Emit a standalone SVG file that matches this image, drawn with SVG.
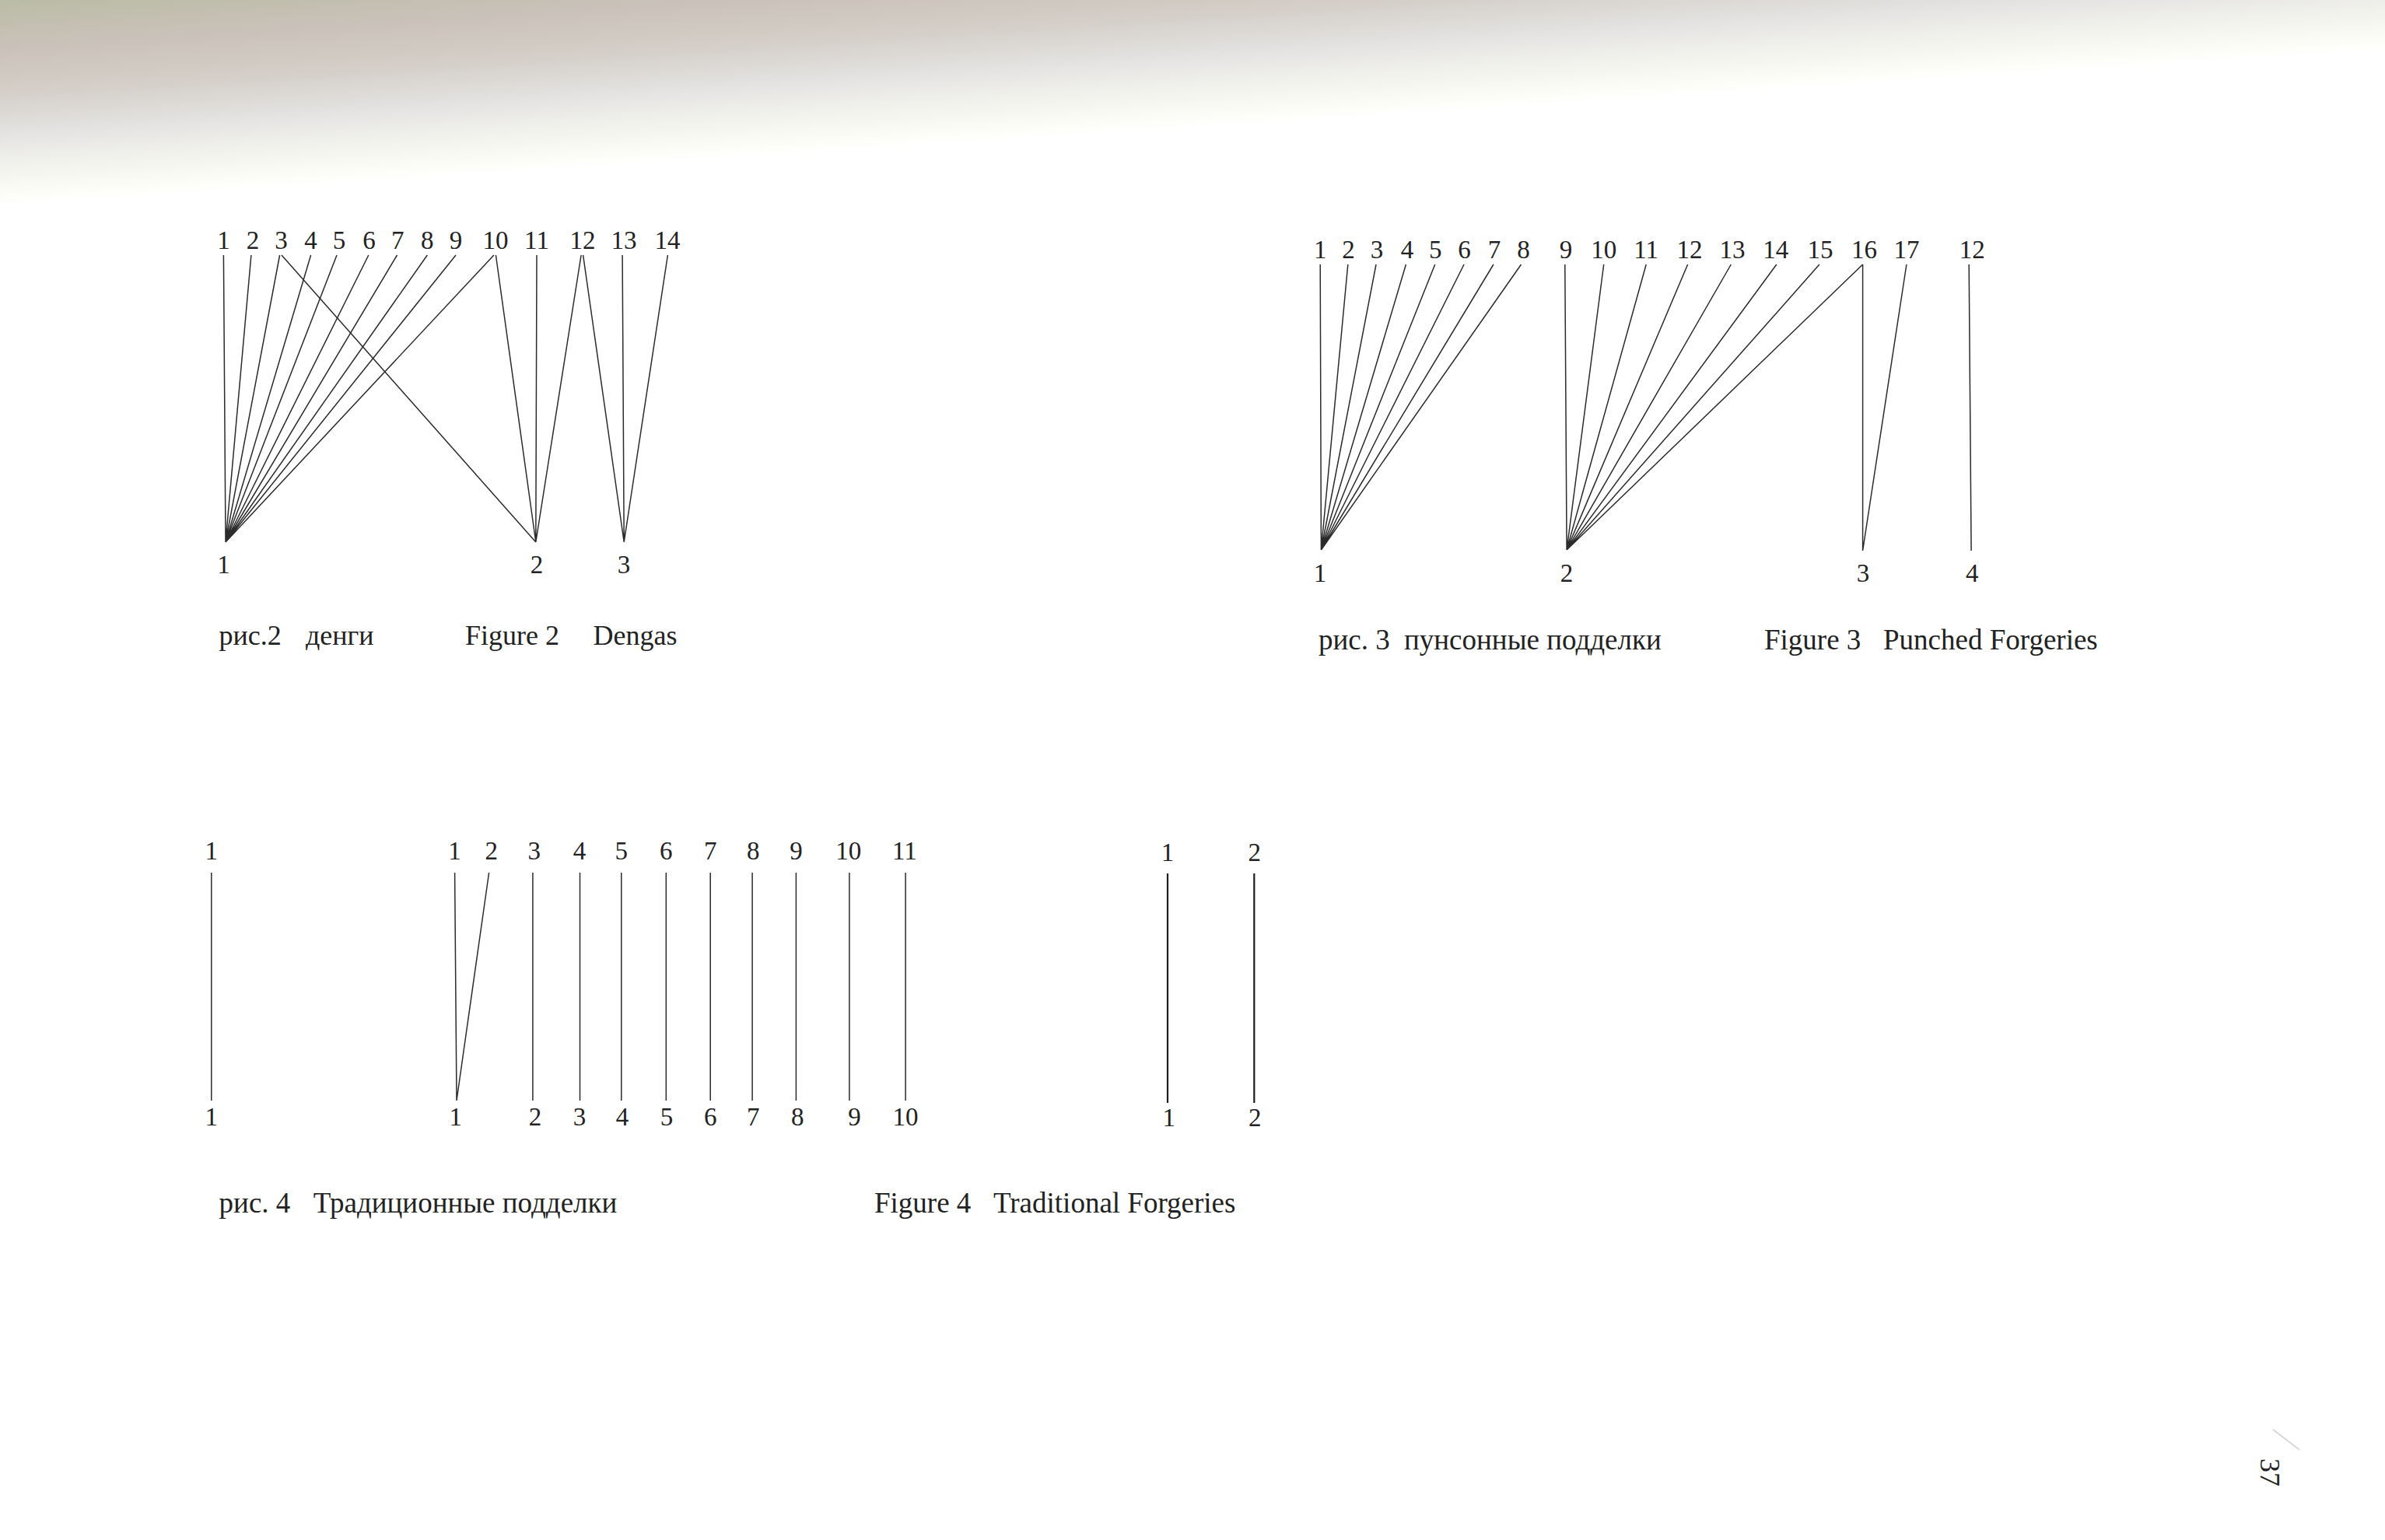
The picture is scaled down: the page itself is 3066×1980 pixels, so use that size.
<svg xmlns="http://www.w3.org/2000/svg" width="3066" height="1980" viewBox="0 0 3066 1980">
<defs>
<linearGradient id="haze" gradientUnits="userSpaceOnUse" x1="0" y1="0" x2="0" y2="265" gradientTransform="skewY(-3.73)">
<stop offset="0" stop-color="#babca6"/>
<stop offset="0.25" stop-color="#cbc2bb"/>
<stop offset="0.45" stop-color="#d4cfc8"/>
<stop offset="0.65" stop-color="#e4e3e2"/>
<stop offset="0.82" stop-color="#f3f3ee"/>
<stop offset="0.93" stop-color="#fcfcf6"/>
<stop offset="1" stop-color="#ffffff"/>
</linearGradient>
<style>
.lbl{font-family:"Liberation Serif","DejaVu Serif",serif;font-size:33px;fill:#222;text-anchor:middle}
.cap{font-family:"Liberation Serif","DejaVu Serif",serif;font-size:36px;fill:#222}
.cap37{font-size:37px}
.ln{stroke:#2b2b2b;stroke-width:1.5;fill:none}
.ln2{stroke:#1e1e1e;stroke-width:2.2;fill:none}
</style>
</defs>
<rect x="0" y="0" width="3066" height="1980" fill="#ffffff"/>
<rect x="0" y="-250" width="3066" height="560" fill="url(#haze)"/>

<!-- Figure 2 -->
<g id="fig2">
<g id="fig2-top">
<text class="lbl" y="320"><tspan x="287.4">1</tspan><tspan x="324.9">2</tspan><tspan x="361.6">3</tspan><tspan x="399.6">4</tspan><tspan x="435.9">5</tspan><tspan x="474.6">6</tspan><tspan x="511.3">7</tspan><tspan x="549.3">8</tspan><tspan x="586">9</tspan><tspan x="637">10</tspan><tspan x="690">11</tspan><tspan x="749">12</tspan><tspan x="802">13</tspan><tspan x="858">14</tspan></text>
</g>
<g id="fig2-n1"><text class="lbl" x="287.4" y="737">1</text></g>
<g id="fig2-n2"><text class="lbl" x="690" y="737">2</text></g>
<g id="fig2-n3"><text class="lbl" x="802" y="737">3</text></g>
<g id="fig2-connectors">
<path class="ln" d="M287.4 328L290 697M322.9 328L290 697M359.6 328L290 697M399.6 328L290 697M433 328L290 697M473.8 328L290 697M510.5 328L290 697M549.3 328L290 697M586 328L290 697M634.9 328L290 697"/>
<path class="ln" d="M362 328L688.8 697M637.4 328L688.8 697M690 328L688.8 697M747.1 328L688.8 697"/>
<path class="ln" d="M749.6 328L802.2 697M800.1 328L802.2 697M858.4 328L802.2 697"/>
</g>
<text class="cap" y="829"><tspan x="281.6">рис.2</tspan><tspan x="393">денги</tspan><tspan x="598">Figure 2</tspan><tspan x="762.6">Dengas</tspan></text>
</g>

<!-- Figure 3 -->
<g id="fig3">
<g id="fig3-top">
<text class="lbl" y="332"><tspan x="1697.2">1</tspan><tspan x="1733.4">2</tspan><tspan x="1770.1">3</tspan><tspan x="1809.1">4</tspan><tspan x="1845.3">5</tspan><tspan x="1882.6">6</tspan><tspan x="1921.1">7</tspan><tspan x="1958.4">8</tspan><tspan x="2012.9">9</tspan><tspan x="2061.7">10</tspan><tspan x="2116.2">11</tspan><tspan x="2171.9">12</tspan><tspan x="2227">13</tspan><tspan x="2282.7">14</tspan><tspan x="2340.1">15</tspan><tspan x="2396.4">16</tspan><tspan x="2450.9">17</tspan><tspan x="2535.3">12</tspan></text>
</g>
<g id="fig3-n1"><text class="lbl" x="1697" y="748">1</text></g>
<g id="fig3-n2"><text class="lbl" x="2014" y="748">2</text></g>
<g id="fig3-n3"><text class="lbl" x="2395" y="748">3</text></g>
<g id="fig3-n4"><text class="lbl" x="2535.3" y="748">4</text></g>
<g id="fig3-connectors">
<path class="ln" d="M1697.2 340L1698.4 707M1732.8 340L1698.4 707M1769 340L1698.4 707M1807.4 340L1698.4 707M1844.7 340L1698.4 707M1882 340L1698.4 707M1919.9 340L1698.4 707M1955.5 340L1698.4 707"/>
<path class="ln" d="M2011.8 340L2014.1 707M2061.7 340L2014.1 707M2116.2 340L2014.1 707M2169.6 340L2014.1 707M2225.3 340L2014.1 707M2283.8 340L2014.1 707M2338.9 340L2014.1 707M2394.6 340L2014.1 707"/>
<path class="ln" d="M2394.6 340L2394.6 708M2450.9 340L2394.6 708"/>
<path class="ln" d="M2531.2 340L2534.1 708"/>
</g>
<text class="cap cap37" y="835"><tspan x="1695">рис. 3</tspan><tspan x="1805">пунсонные подделки</tspan><tspan x="2268">Figure 3</tspan><tspan x="2421">Punched Forgeries</tspan></text>
</g>

<!-- Figure 4 -->
<g id="fig4">
<g id="fig4-top">
<text class="lbl" y="1105"><tspan x="271.8">1</tspan><tspan x="584.6">1</tspan><tspan x="631.7">2</tspan><tspan x="686.8">3</tspan><tspan x="744.9">4</tspan><tspan x="798.8">5</tspan><tspan x="856.3">6</tspan><tspan x="913.2">7</tspan><tspan x="968.3">8</tspan><tspan x="1023.4">9</tspan><tspan x="1090.7">10</tspan><tspan x="1162.9">11</tspan></text>
<text class="lbl" y="1107"><tspan x="1501">1</tspan><tspan x="1612.7">2</tspan></text>
</g>
<g id="fig4-bottom">
<text class="lbl" y="1447"><tspan x="271.8">1</tspan><tspan x="585.8">1</tspan><tspan x="688">2</tspan><tspan x="744.9">3</tspan><tspan x="800">4</tspan><tspan x="856.9">5</tspan><tspan x="913.2">6</tspan><tspan x="968.3">7</tspan><tspan x="1025.2">8</tspan><tspan x="1098.6">9</tspan><tspan x="1164.1">10</tspan></text>
<text class="lbl" y="1448"><tspan x="1502.7">1</tspan><tspan x="1613.3">2</tspan></text>
</g>
<g id="fig4-connectors">
<path class="ln" d="M271.8 1122L271.8 1415M584.6 1122L587 1415M628.6 1122L587 1415M684.9 1122L684.9 1415M745.5 1122L745.5 1415M798.8 1122L798.8 1415M856.3 1122L856.3 1415M913.2 1122L913.2 1415M967.1 1122L967.1 1415M1023.4 1122L1023.4 1415M1091.9 1122L1091.9 1415M1164.1 1122L1164.1 1415"/>
<path class="ln2" d="M1501 1123L1501 1418M1612.3 1123L1612.3 1418"/>
</g>
<text class="cap cap37" y="1559"><tspan x="281.6">рис. 4</tspan><tspan x="402.8">Традиционные подделки</tspan><tspan x="1124">Figure 4</tspan><tspan x="1277">Traditional Forgeries</tspan></text>
</g>

<!-- page number -->
<line x1="2922" y1="1838" x2="2956" y2="1864" stroke="#d8d8d8" stroke-width="2"/>
<text class="cap" x="2906" y="1893" font-size="38" text-anchor="middle" transform="rotate(90 2906 1893)">37</text>
</svg>
